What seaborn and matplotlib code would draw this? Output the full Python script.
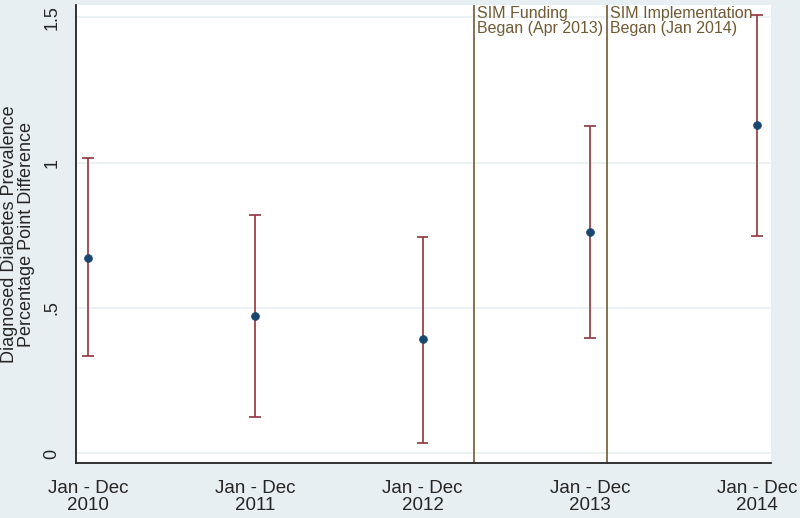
import numpy as np
import pandas as pd
import seaborn as sns
import matplotlib.pyplot as plt

# values
periods = ["Jan - Dec\n2010", "Jan - Dec\n2011", "Jan - Dec\n2012", "Jan - Dec\n2013", "Jan - Dec\n2014"]
estimate = [0.672, 0.473, 0.393, 0.761, 1.129]
ci_low = [0.335, 0.125, 0.036, 0.397, 0.747]
ci_high = [1.015, 0.820, 0.744, 1.125, 1.507]
event_pos = [2.305, 3.10]
event_text = ["SIM Funding\nBegan (Apr 2013)", "SIM Implementation\nBegan (Jan 2014)"]
y_ticks = [0, 0.5, 1, 1.5]
y_tick_labels = ["0", ".5", "1", "1.5"]

bg = "#e8eff2"
navy = "#1a476f"
maroon = "#90353b"
brown = "#6f5a33"

sns.set_style("white")
plt.rcParams["font.family"] = ["Liberation Sans", "DejaVu Sans"]

df = pd.DataFrame({"x": np.arange(len(periods)), "est": estimate,
                   "lo": ci_low, "hi": ci_high})

fig = plt.figure(figsize=(8, 5.18), dpi=100, facecolor=bg)
ax = fig.add_axes([0.095, 0.106, 0.869, 0.884])
ax.set_facecolor("white")

for yv in y_ticks:
    ax.axhline(yv, color="#eaf2f3", linewidth=1.5, zorder=0)

ax.vlines(df["x"], df["lo"], df["hi"], color=maroon, linewidth=1.2, zorder=2)
ax.hlines(df["lo"], df["x"] - 0.035, df["x"] + 0.035, color=maroon, linewidth=1.2, zorder=2)
ax.hlines(df["hi"], df["x"] - 0.035, df["x"] + 0.035, color=maroon, linewidth=1.2, zorder=2)
sns.scatterplot(data=df, x="x", y="est", ax=ax, color=navy, s=32, marker="o",
                edgecolor=navy, linewidth=0.5, zorder=3)

for xp, txt in zip(event_pos, event_text):
    ax.axvline(xp, color=brown, linewidth=1.2, zorder=2)
    ax.text(xp + 0.022, 1.538, txt, color=brown, fontsize=11.5, va="top", ha="left",
            linespacing=1.0)

ax.set_xlim(-0.072, 4.084)
ax.set_ylim(-0.033, 1.541)
ax.set_xticks(df["x"])
ax.set_xticklabels(periods, fontsize=13.5, linespacing=1.0)
ax.set_yticks(y_ticks)
ax.set_yticklabels(y_tick_labels, fontsize=13, rotation=90, va="center")
ax.tick_params(axis="both", length=7, width=1.2, color="#333333", direction="out", pad=4)
ax.tick_params(axis="x", pad=5)

ax.set_xlabel("")
ax.set_ylabel("Diagnosed Diabetes Prevalence\nPercentage Point Difference", fontsize=13,
              linespacing=1.0, labelpad=6, multialignment="center")

for side in ["top", "right"]:
    ax.spines[side].set_visible(False)
for side in ["left", "bottom"]:
    ax.spines[side].set_color("#222222")
    ax.spines[side].set_linewidth(1.3)

fig.savefig("out.png", dpi=100, facecolor=bg)
